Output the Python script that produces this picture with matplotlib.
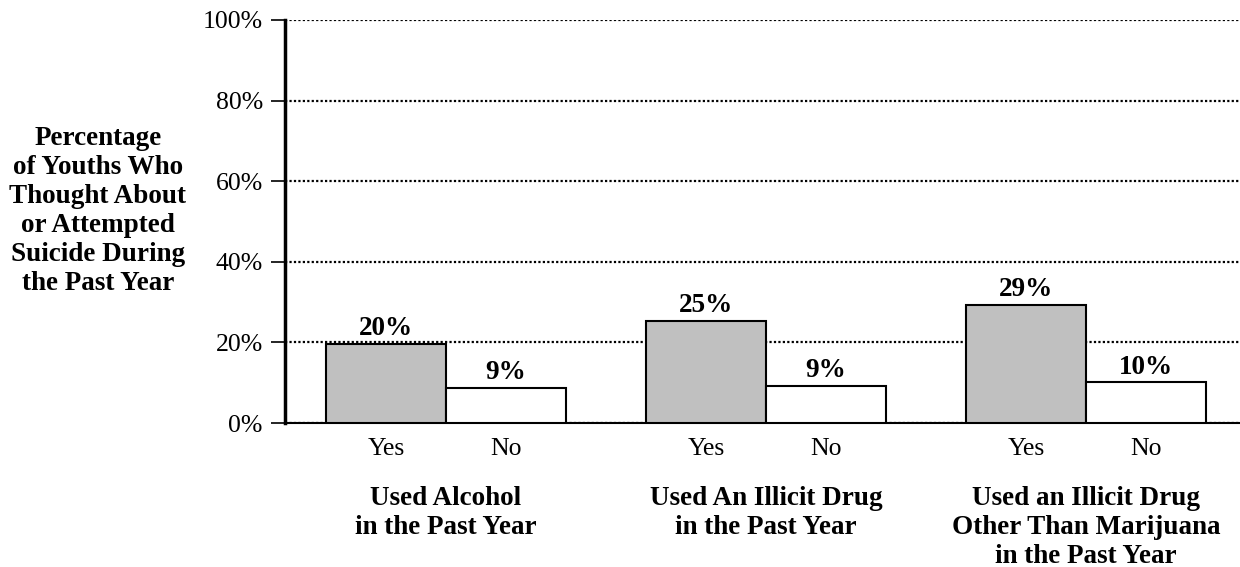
import matplotlib
matplotlib.use("Agg")
import matplotlib.pyplot as plt
import matplotlib.transforms as mtransforms
import numpy as np

plt.rcParams['font.family'] = ['Liberation Serif', 'DejaVu Serif']

groups = ["Used Alcohol\nin the Past Year",
          "Used An Illicit Drug\nin the Past Year",
          "Used an Illicit Drug\nOther Than Marijuana\nin the Past Year"]
yes_vals = [19.6, 25.4, 29.4]
no_vals = [8.7, 9.2, 10.1]
sub_labels = ["Yes", "No"]
yticks = [0, 20, 40, 60, 80, 100]
ylabel = ("Percentage\nof Youths Who\nThought About\nor Attempted\n"
          "Suicide During\nthe Past Year")

LINE_PX = 29.5

fig = plt.figure(figsize=(12.4, 5.67), dpi=100)
ax = fig.add_axes([285/1240, 1-423/567, 1-285/1240, (423-20)/567])

x = np.arange(len(groups))
w = 0.375
ax.set_xlim(-0.503, 2.481)
ax.set_ylim(0, 100)

# gridlines
for t in yticks:
    ax.axhline(t, color='black', linestyle=(0, (1, 1)), lw=1.6, zorder=1)

b1 = ax.bar(x - w/2, yes_vals, w, color='#c0c0c0', edgecolor='black', lw=1.5, zorder=3)
b2 = ax.bar(x + w/2, no_vals, w, color='white', edgecolor='black', lw=1.5, zorder=3)

for bars, vals in ((b1, yes_vals), (b2, no_vals)):
    for r, v in zip(bars, vals):
        ax.annotate(f"{v:.0f}%", (r.get_x() + r.get_width()/2, r.get_height()),
                    xytext=(0, 2), textcoords='offset points',
                    ha='center', va='bottom', fontsize=19.5, fontweight='bold')

ax.set_yticks(yticks)
ax.set_yticklabels([f"{t}%" for t in yticks], fontsize=18.5)
ax.tick_params(axis='y', direction='out', length=10, width=1.2, pad=6)

xt = np.concatenate([x - w/2, x + w/2])
ax.set_xticks(xt)
ax.set_xticklabels([sub_labels[0]]*len(x) + [sub_labels[1]]*len(x), fontsize=18.5)
ax.tick_params(axis='x', length=0, pad=11)

for s in ['top', 'right']:
    ax.spines[s].set_visible(False)
ax.spines['left'].set_linewidth(2.5)
ax.spines['bottom'].set_linewidth(1.5)

trans = mtransforms.blended_transform_factory(ax.transData, ax.transAxes)
for xi, g in zip(x, groups):
    n = g.count('\n')
    last_base = 504 + n * LINE_PX
    ax.text(xi, (423 - last_base)/403, g, transform=trans, ha='center',
            va='baseline', fontsize=19.5, fontweight='bold', linespacing=1.21)

n = ylabel.count('\n')
fig.text(98/1240, 1-(142 + n * LINE_PX)/567, ylabel, ha='center', va='baseline',
         fontsize=19.5, fontweight='bold', linespacing=1.21)

fig.savefig("out.png", dpi=100)
